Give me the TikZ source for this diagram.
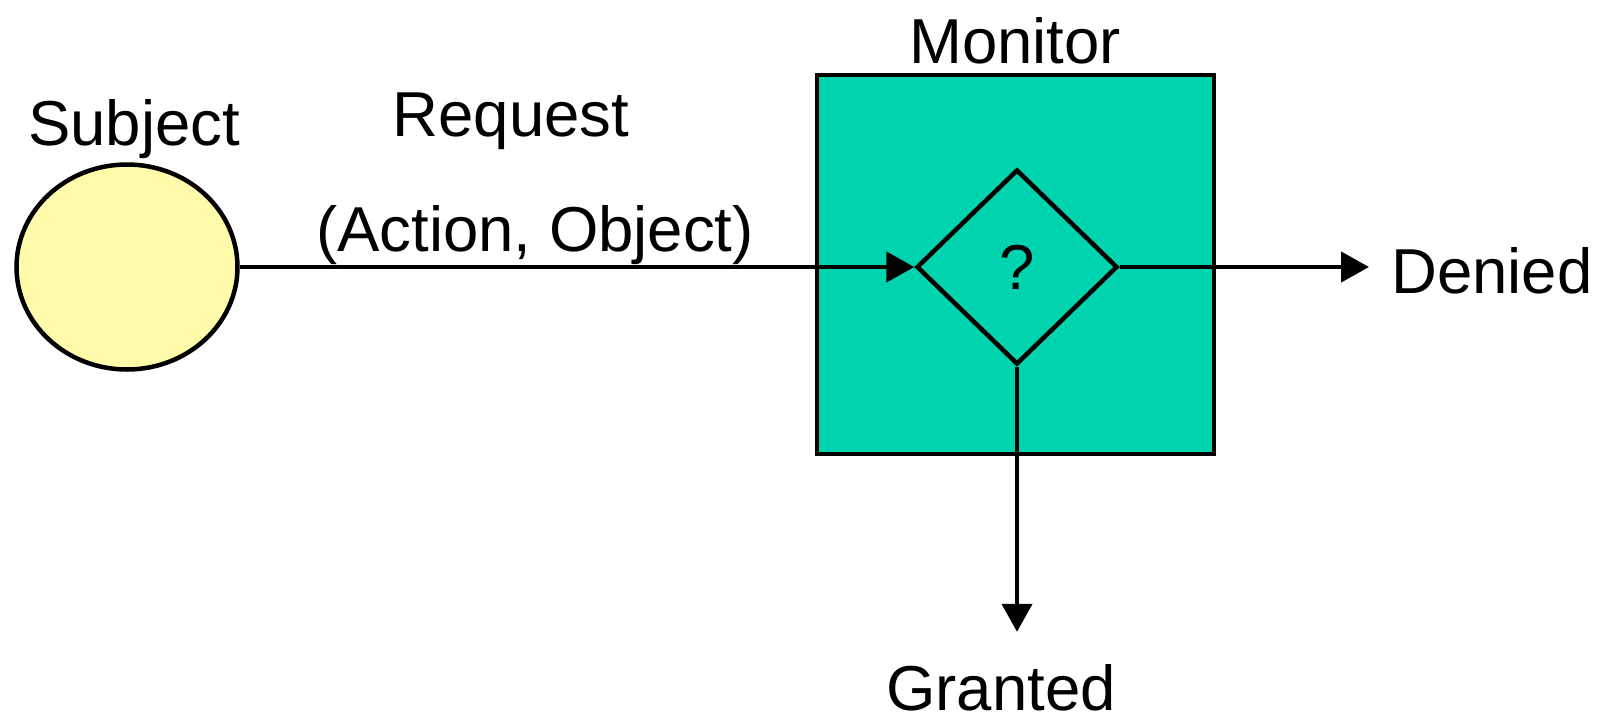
\documentclass[tikz,border=0pt]{standalone}
\usepackage{fontspec}
\setmainfont{Liberation Sans}
\usetikzlibrary{arrows.meta, positioning, shapes.geometric}
\definecolor{subjectcolor}{HTML}{FFFBAA}
\definecolor{monitorcolor}{HTML}{00D4AE}

\begin{document}
\begin{tikzpicture}[
    x=1pt, y=1pt,
    every node/.style={font=\fontsize{63.5}{76}\selectfont},
    shapebox/.style={draw, line width=4.5pt, inner sep=0pt},
    flow/.style={line width=4.5pt, -{Triangle[length=28pt, width=30pt]}},
    lbl/.style={anchor=base, inner sep=0pt}
]
    \useasboundingbox (0,0) rectangle (1604,-718);
    % --- subject and monitor ---
    \node[shapebox, ellipse, fill=subjectcolor, minimum width=221pt, minimum height=205pt] (subject) at (127,-267) {};
    \node[shapebox, fill=monitorcolor, minimum width=397pt, minimum height=379pt] (monitor) at (1015.5,-264.5) {};
    \node[shapebox, diamond, minimum width=201pt, minimum height=195pt] (check) at (1017,-267) {?};
    % --- labels ---
    \node[lbl] (subjectlabel) at (134,-145) {Subject};
    \node[lbl] (request) at (511,-136) {Request};
    \node[lbl] (args) at (535,-251) {(Action, Object)};
    \node[lbl] (monitorlabel) at (1015,-63) {Monitor};
    \node[lbl, anchor=base west] (denied) at (1391,-293) {Denied};
    \node[lbl] (granted) at (1001,-710) {Granted};
    % --- flows ---
    \draw[flow] (subject.east) -- (check.west);
    \draw[flow] (check.east) -- ([xshift=-22pt]denied.west |- check.east);
    \draw[flow] (check.south) -- ([yshift=32pt]granted.north -| check.south);
\end{tikzpicture}
\end{document}
